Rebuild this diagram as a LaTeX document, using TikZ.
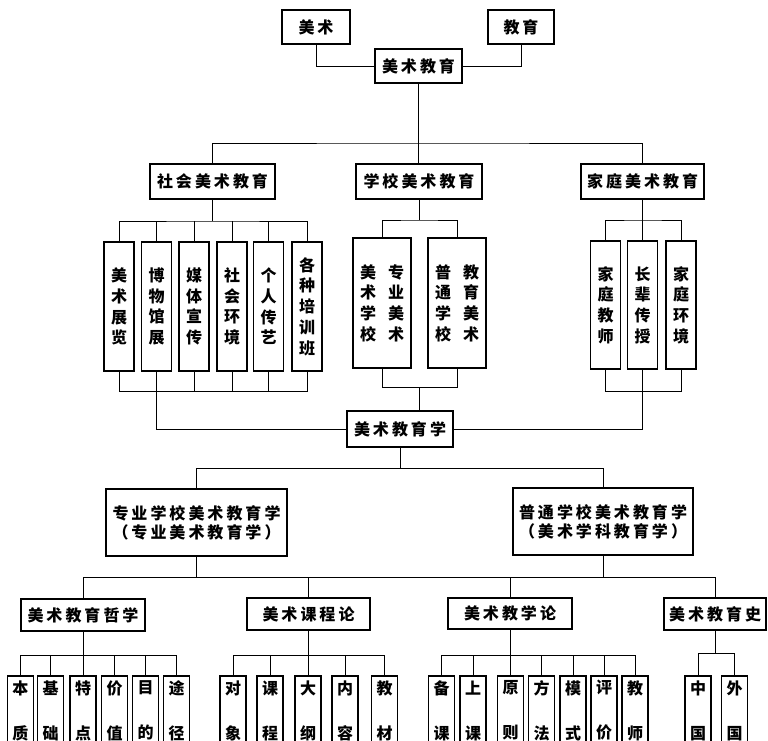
\documentclass[tikz,border=0pt]{standalone}
\usepackage{fontspec}
\setmainfont{Noto Sans CJK SC}
\makeatletter
\def\spaced#1{\sp@a#1\relax}
\def\sp@a#1{\ifx#1\relax\else#1\expandafter\sp@b\fi}
\def\sp@b#1{\ifx#1\relax\else\hspace{3pt}#1\expandafter\sp@b\fi}
\makeatother
\tikzset{
  box/.style={draw, line width=1.2pt, inner sep=0pt, align=center,
    font=\bfseries\fontsize{16}{19}\selectfont},
  vbox/.style={box, font=\bfseries\fontsize{16}{20.7}\selectfont},
  leaf/.style={box, minimum width=26pt, minimum height=69pt,
    font=\bfseries\fontsize{16}{45}\selectfont},
  conn/.style={line width=0.9pt}
}
\begin{document}
\begin{tikzpicture}[x=1pt,y=-1pt]
\useasboundingbox (0,0) rectangle (768,740);
\fill[white] (0,0) rectangle (768,740);
\begin{scope}
\clip (0,0) rectangle (768,740);
% top
\node[box, minimum width=68pt, minimum height=34pt] (ms) at (316,27) {\spaced{美术}};
\node[box, minimum width=66pt, minimum height=34pt] (jy) at (521,27) {\spaced{教育}};
\node[box, minimum width=87pt, minimum height=34pt] (mjy) at (418.5,66) {\spaced{美术教育}};
% level 2
\node[box, minimum width=125pt, minimum height=35pt] (sh) at (212.5,181.5) {\spaced{社会美术教育}};
\node[box, minimum width=126pt, minimum height=35pt] (xx) at (419,181.5) {\spaced{学校美术教育}};
\node[box, minimum width=123pt, minimum height=35pt] (jt) at (642.5,181.5) {\spaced{家庭美术教育}};
% social leaves
\node[vbox, minimum width=30pt, minimum height=129pt] (s1) at (119,306.5) {美\\术\\展\\览};
\node[vbox, minimum width=30pt, minimum height=129pt] (s2) at (156.5,306.5) {博\\物\\馆\\展};
\node[vbox, minimum width=30pt, minimum height=129pt] (s3) at (194,306.5) {媒\\体\\宣\\传};
\node[vbox, minimum width=30pt, minimum height=129pt] (s4) at (232,306.5) {社\\会\\环\\境};
\node[vbox, minimum width=30pt, minimum height=129pt] (s5) at (268.5,306.5) {个\\人\\传\\艺};
\node[vbox, minimum width=30pt, minimum height=129pt] (s6) at (307,306.5) {各\\种\\培\\训\\班};
% school leaves
\node[vbox, minimum width=58pt, minimum height=130pt] (c1) at (382,303) {美\hspace{12pt}专\\术\hspace{12pt}业\\学\hspace{12pt}美\\校\hspace{12pt}术};
\node[vbox, minimum width=58pt, minimum height=130pt] (c2) at (457,303) {普\hspace{12pt}教\\通\hspace{12pt}育\\学\hspace{12pt}美\\校\hspace{12pt}术};
% family leaves
\node[vbox, minimum width=30pt, minimum height=128pt] (f1) at (605.5,305) {家\\庭\\教\\师};
\node[vbox, minimum width=30pt, minimum height=128pt] (f2) at (642.5,305) {长\\辈\\传\\授};
\node[vbox, minimum width=30pt, minimum height=128pt] (f3) at (681,305) {家\\庭\\环\\境};
% 美术教育学
\node[box, minimum width=106pt, minimum height=36pt] (xue) at (400,429) {\spaced{美术教育学}};
% level 4
\node[box, minimum width=181pt, minimum height=67pt] (zy) at (196.5,522.5) {\spaced{专业学校美术教育学}\\\spaced{（专业美术教育学）}};
\node[box, minimum width=180pt, minimum height=67pt] (pt) at (603,521.5) {\spaced{普通学校美术教育学}\\\spaced{（美术学科教育学）}};
% level 5
\node[box, minimum width=124pt, minimum height=32pt] (zx) at (83,615) {\spaced{美术教育哲学}};
\node[box, minimum width=123pt, minimum height=32pt] (kc) at (308.5,614) {\spaced{美术课程论}};
\node[box, minimum width=124pt, minimum height=31pt] (jx) at (510,613.5) {\spaced{美术教学论}};
\node[box, minimum width=102pt, minimum height=32pt] (ls) at (715,614) {\spaced{美术教育史}};
% leaves
\node[leaf] (z1) at (20.5,710.5) {本\\质};
\node[leaf] (z2) at (50.5,710.5) {基\\础};
\node[leaf] (z3) at (83,710.5) {特\\点};
\node[leaf] (z4) at (114.5,710.5) {价\\值};
\node[leaf] (z5) at (145.5,710.5) {目\\的};
\node[leaf] (z6) at (176.5,710.5) {途\\径};
\node[leaf] (k1) at (233,710.5) {对\\象};
\node[leaf] (k2) at (270,710.5) {课\\程};
\node[leaf] (k3) at (308,710.5) {大\\纲};
\node[leaf] (k4) at (345,710.5) {内\\容};
\node[leaf] (k5) at (384.5,710.5) {教\\材};
\node[leaf] (j1) at (441.5,710.5) {备\\课};
\node[leaf] (j2) at (473,710.5) {上\\课};
\node[leaf] (j3) at (510.5,710.5) {原\\则};
\node[leaf] (j4) at (541.5,710.5) {方\\法};
\node[leaf] (j5) at (573,710.5) {模\\式};
\node[leaf] (j6) at (604,710.5) {评\\价};
\node[leaf] (j7) at (635,710.5) {教\\师};
\node[leaf] (l1) at (698,710.5) {中\\国};
\node[leaf] (l2) at (734.5,710.5) {外\\国};
% connectors top
\draw[conn] (ms.south) |- (mjy.west);
\draw[conn] (jy.south) |- (mjy.east);
\coordinate (b1) at (418.5,143);
\draw[conn] (mjy.south) -- (mjy.south |- xx.north);
\draw[conn] (sh.north) |- (b1) -| (jt.north);
% social
\coordinate (b2) at (212.5,221);
\draw[conn] (sh.south) -- (b2);
\draw[conn] (s1.north) |- (b2) -| (s6.north);
\foreach \i in {2,...,5} \draw[conn] (s\i.north) -- (s\i.north |- b2);
\coordinate (b3) at (157,391);
\draw[conn] (s1.south) |- (b3) -| (s6.south);
\foreach \i in {3,...,5} \draw[conn] (s\i.south) -- (s\i.south |- b3);
\draw[conn] (s2.south) |- (xue.west);
% school
\coordinate (b4) at (419,220);
\draw[conn] (xx.south) -- (b4);
\draw[conn] (c1.north) |- (b4) -| (c2.north);
\coordinate (b5) at (419,387);
\draw[conn] (c1.south) |- (b5) -| (c2.south);
\draw[conn] (b5) -- (b5 |- xue.north);
% family
\coordinate (b6) at (642.5,220);
\draw[conn] (jt.south) -- (b6);
\draw[conn] (f1.north) |- (b6) -| (f3.north);
\draw[conn] (f2.north) -- (f2.north |- b6);
\coordinate (b7) at (642.5,391);
\draw[conn] (f1.south) |- (b7) -| (f3.south);
\draw[conn] (f2.south) |- (xue.east);
% below xue
\coordinate (b8) at (400,468);
\draw[conn] (xue.south) -- (b8);
\draw[conn] (zy.north) |- (b8) -| (pt.north);
% level 4 to 5
\coordinate (b9) at (400,577);
\draw[conn] (zx.north) |- (b9) -| (ls.north);
\draw[conn] (zy.south) -- (zy.south |- b9);
\draw[conn] (pt.south) -- (pt.south |- b9);
\draw[conn] (kc.north) -- (kc.north |- b9);
\draw[conn] (jx.north) -- (jx.north |- b9);
% leaves
\coordinate (b10) at (83,655);
\draw[conn] (zx.south) -- (b10);
\draw[conn] (z1.north) |- (b10) -| (z6.north);
\foreach \i in {2,...,5} \draw[conn] (z\i.north) -- (z\i.north |- b10);
\coordinate (b11) at (308.5,655);
\draw[conn] (kc.south) -- (b11);
\draw[conn] (k1.north) |- (b11) -| (k5.north);
\foreach \i in {2,...,4} \draw[conn] (k\i.north) -- (k\i.north |- b11);
\coordinate (b12) at (510,655);
\draw[conn] (jx.south) -- (b12);
\draw[conn] (j1.north) |- (b12) -| (j7.north);
\foreach \i in {2,...,6} \draw[conn] (j\i.north) -- (j\i.north |- b12);
\coordinate (b13) at (715,653);
\draw[conn] (ls.south) -- (b13);
\draw[conn] (l1.north) |- (b13) -| (l2.north);
\end{scope}
\end{tikzpicture}
\end{document}
